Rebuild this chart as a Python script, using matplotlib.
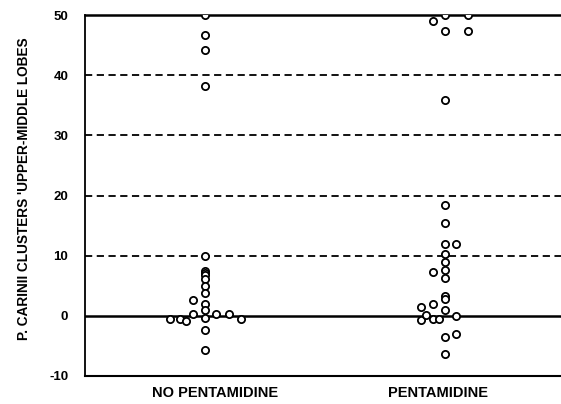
import matplotlib
matplotlib.use("Agg")
import matplotlib.pyplot as plt
import numpy as np

categories = ["NO PENTAMIDINE", "PENTAMIDINE"]

# values (y) and horizontal offsets (category units) for each group
no_pent_values = [50, 46.7, 44.1, 38.2, 10.0, 7.5, 7.1, 6.8, 6.1, 4.9, 3.8, 2.7, 2.0, 0.9,
                  0.3, -0.4, 0.3, 0.3, -0.5, -0.5, -0.5, -0.9, -2.3, -5.6]
no_pent_offsets = [0, 0, 0, 0, 0, 0, 0, 0, 0, 0, 0, -0.05, 0, 0,
                   -0.05, 0, 0.045, 0.1, 0.15, -0.145, -0.105, -0.08, 0, 0]

pent_values = [49.0, 50, 50, 47.3, 47.3, 35.9, 18.4, 15.4, 12.0, 12.0, 10.2, 8.9, 7.6, 6.3,
               7.3, 3.3, 2.8, 1.4, 1.9, 1.0, -0.7, 0.1, -0.5, -0.5, -0.1, -3.5, -3.0, -6.3]
pent_offsets = [-0.05, 0, 0.096, 0, 0.096, 0, 0, 0, 0, 0.046, 0, 0, 0, 0,
                -0.05, 0, 0, -0.1, -0.05, 0, -0.1, -0.08, -0.05, -0.025, 0.046, 0, 0.046, 0]

y_ticks = [-10, 0, 10, 20, 30, 40, 50]
dashed_levels = [10, 20, 30, 40]
y_label = "P. CARINII CLUSTERS 'UPPER-MIDDLE LOBES"

plt.rcParams['font.family'] = ['Liberation Sans', 'DejaVu Sans']

fig = plt.figure(figsize=(5.61, 4.04), dpi=100)
ax = fig.add_axes([85/561, 28/404, 480/561, 361/404])

for i, (vals, offs) in enumerate([(no_pent_values, no_pent_offsets), (pent_values, pent_offsets)]):
    xs = np.array(offs) + (i + 1)
    ax.plot(xs, vals, linestyle='none', marker='o', markersize=5.2,
            markerfacecolor='white', markeredgecolor='black', markeredgewidth=1.3, zorder=3)

for lv in dashed_levels:
    ax.axhline(lv, color='black', linestyle=(0, (4, 2.5)), linewidth=1.3, zorder=1)
ax.axhline(0, color='black', linewidth=1.8, zorder=1)

ax.set_xlim(0.5, 2.5)
ax.set_ylim(-10, 50)
ax.set_xticks([1.04, 1.97])
ax.set_xticklabels(categories, fontsize=10.5, fontweight='bold')
ax.set_yticks(y_ticks)
ax.set_yticklabels([str(t) for t in y_ticks], fontsize=9.5, fontweight='bold')
ax.tick_params(axis='both', length=0)
ax.tick_params(axis='y', pad=12)
ax.tick_params(axis='x', pad=7.5)

ax.spines['right'].set_visible(False)
ax.spines['top'].set_linewidth(1.8)
ax.spines['bottom'].set_linewidth(1.5)
ax.spines['left'].set_linewidth(1.3)

ax.set_ylabel(y_label, fontsize=9.8, fontweight='bold')
ax.yaxis.set_label_coords(-0.113, 0.518)

fig.savefig("out.png", dpi=100, facecolor='white')
